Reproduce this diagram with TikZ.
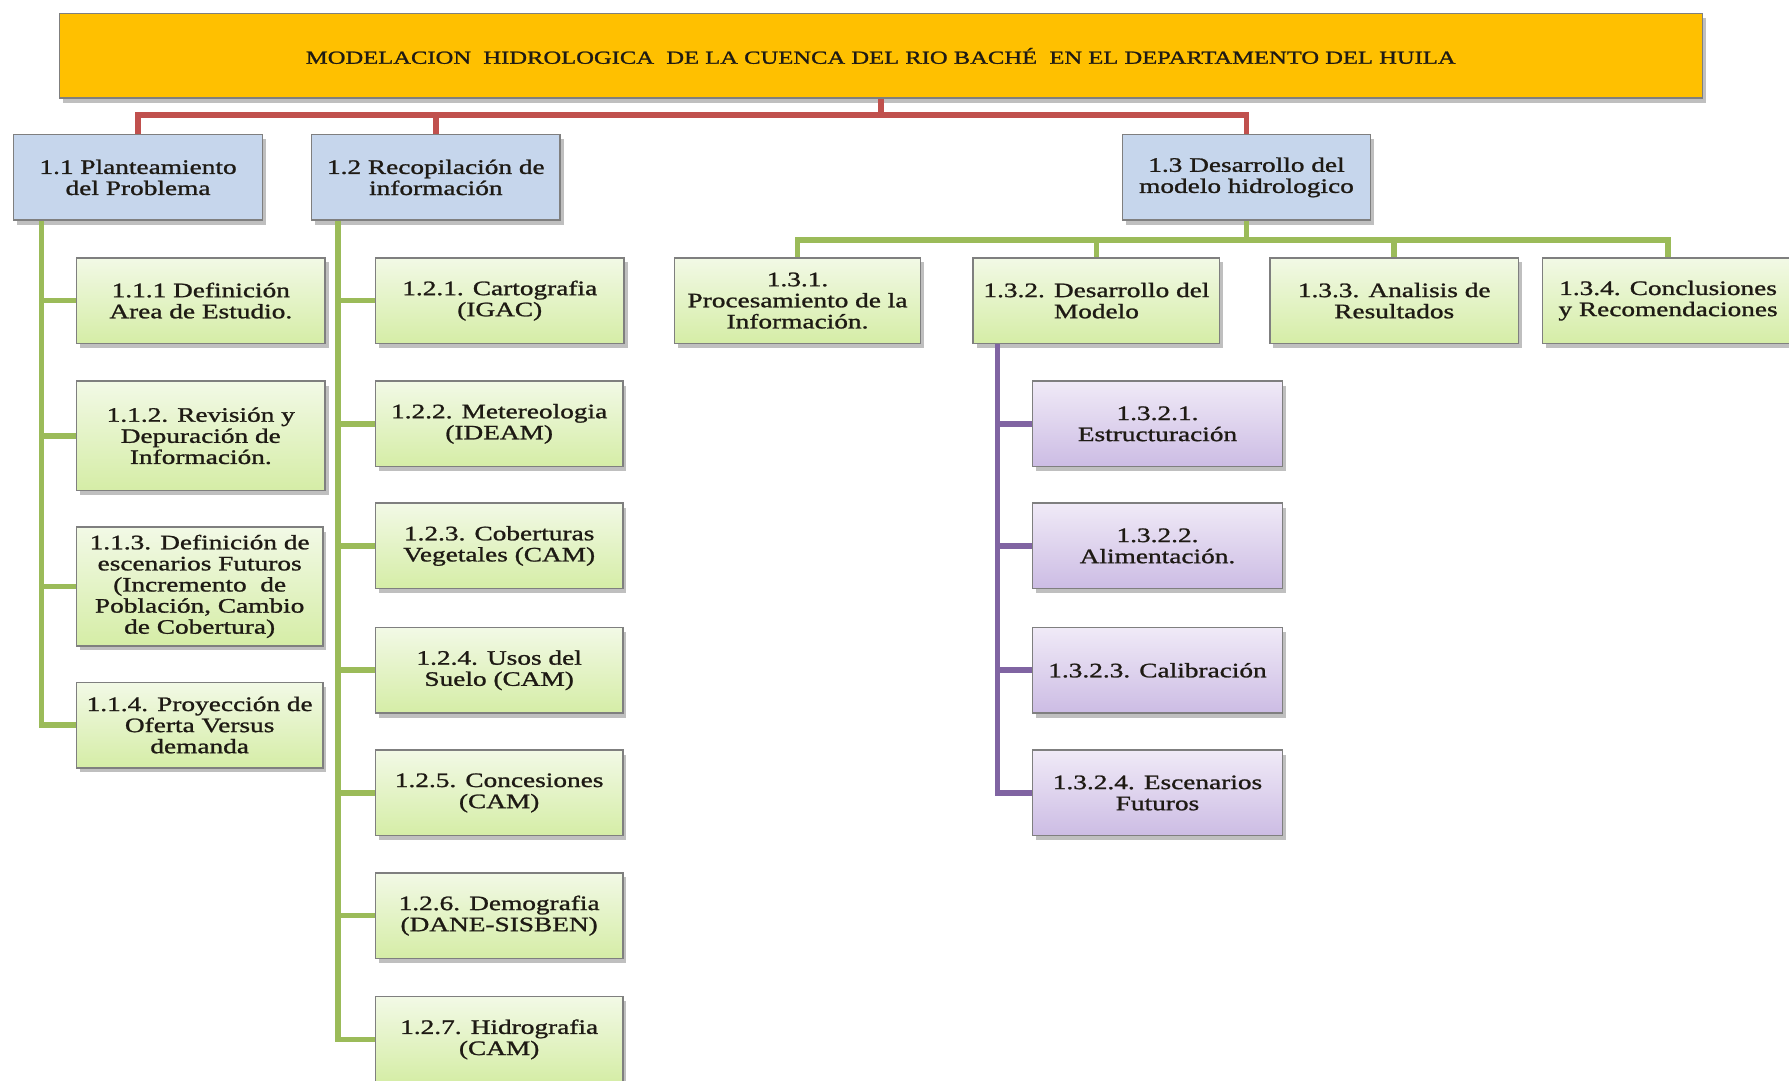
\documentclass[tikz,border=0pt]{standalone}
\usepackage{fontspec}
\setmainfont{Liberation Serif}[FakeStretch=1.33,FakeBold=1.2]
\usetikzlibrary{shadows}
\definecolor{titlefill}{HTML}{FFC000}
\definecolor{bluefill}{HTML}{C6D6EC}
\definecolor{gtop}{HTML}{F2F9E6}
\definecolor{gbot}{HTML}{D5EDA6}
\definecolor{ptop}{HTML}{F0EAF7}
\definecolor{pbot}{HTML}{CCBCE4}
\definecolor{boxborder}{HTML}{7F7F7F}
\definecolor{redln}{HTML}{C0504D}
\definecolor{greenln}{HTML}{9BBB59}
\definecolor{purpleln}{HTML}{8064A2}
\definecolor{txt}{HTML}{1E1A14}
\begin{document}
\begin{tikzpicture}[x=1pt,y=-1pt,
  basebox/.style={draw=boxborder, line width=1.3pt, inner sep=0pt, align=center,
    text=txt, font=\fontsize{18}{18.5}\selectfont,
    drop shadow={shadow xshift=3pt, shadow yshift=-4pt, fill=black, opacity=0.25}},
  titlebox/.style={basebox, fill=titlefill, font=\fontsize{16.2}{17}\selectfont},
  bluebox/.style={basebox, fill=bluefill, minimum width=218, minimum height=75},
  greenbox/.style={basebox, top color=gtop, bottom color=gbot, minimum width=218, minimum height=75},
  purplebox/.style={basebox, top color=ptop, bottom color=pbot, minimum width=219, minimum height=75},
  redline/.style={draw=redln, line width=5pt},
  greenline/.style={draw=greenln, line width=5pt},
  purpleline/.style={draw=purpleln, line width=5pt}
]
\useasboundingbox (0,0) rectangle (1568,947);
\clip (0,0) rectangle (1568,947);
\fill[white] (0,0) rectangle (1568,947);

% title
\node[titlebox, minimum width=1440, minimum height=74] (top) at (772,49)
  {MODELACION\ \ HIDROLOGICA\ \ DE LA CUENCA DEL RIO BACHÉ\ \ EN EL DEPARTAMENTO DEL HUILA};

% level 1
\node[bluebox] (n11) at (121,155.5) {1.1 Planteamiento\\del Problema};
\node[bluebox] (n12) at (382,155.5) {1.2 Recopilación de\\información};
\node[bluebox, minimum width=217] (n13) at (1092.5,155.5) {1.3 Desarrollo del\\modelo hidrologico};

% 1.1 children
\node[greenbox] (n111) at (176,263.5) {1.1.1 Definición\\Area de Estudio.};
\node[greenbox, minimum height=96] (n112) at (176,382) {1.1.2. Revisión y\\Depuración de\\Información.};
\node[greenbox, minimum width=216, minimum height=104] (n113) at (175,514)
  {1.1.3. Definición de\\escenarios Futuros\\(Incremento\ \ de\\Población, Cambio\\de Cobertura)};
\node[greenbox, minimum width=216] (n114) at (175,635.5) {1.1.4. Proyección de\\Oferta Versus\\demanda};

% 1.2 children
\node[greenbox, minimum width=218] (n121) at (438,263.5) {1.2.1. Cartografia\\(IGAC)};
\node[greenbox, minimum width=217] (n122) at (437.5,371.5) {1.2.2. Metereologia\\(IDEAM)};
\node[greenbox, minimum width=217] (n123) at (437.5,478.5) {1.2.3. Coberturas\\Vegetales (CAM)};
\node[greenbox, minimum width=217] (n124) at (437.5,587.5) {1.2.4. Usos del\\Suelo (CAM)};
\node[greenbox, minimum width=217] (n125) at (437.5,695) {1.2.5. Concesiones\\(CAM)};
\node[greenbox, minimum width=217] (n126) at (437.5,802.5) {1.2.6. Demografia\\(DANE-SISBEN)};
\node[greenbox, minimum width=217] (n127) at (437.5,911) {1.2.7. Hidrografia\\(CAM)};

% 1.3 children
\node[greenbox, minimum width=216] (n131) at (699,263.5) {1.3.1.\\Procesamiento de la\\Información.};
\node[greenbox, minimum width=216] (n132) at (961,263.5) {1.3.2. Desarrollo del\\Modelo};
\node[greenbox, minimum width=218] (n133) at (1222,263.5) {1.3.3. Analisis de\\Resultados};
\node[greenbox, minimum width=220] (n134) at (1462,263.5) {1.3.4. Conclusiones\\y Recomendaciones};

% 1.3.2 children
\node[purplebox] (n1321) at (1014.5,371.5) {1.3.2.1.\\Estructuración};
\node[purplebox] (n1322) at (1014.5,478.5) {1.3.2.2.\\Alimentación.};
\node[purplebox] (n1323) at (1014.5,587.5) {1.3.2.3. Calibración};
\node[purplebox] (n1324) at (1014.5,695) {1.3.2.4. Escenarios\\Futuros};

% red connectors
\draw[redline] (top.south) -- ++(0,14) -| (n11.north);
\draw[redline] (top.south) -- ++(0,14) -| (n12.north);
\draw[redline] (top.south) -- ++(0,14) -| (n13.north);

% green under 1.1
\coordinate (t11) at ([xshift=25]n11.south west);
\draw[greenline] (t11) |- (n111.west);
\draw[greenline] (t11) |- (n112.west);
\draw[greenline] (t11) |- (n113.west);
\draw[greenline] (t11) |- (n114.west);

% green under 1.2
\coordinate (t12) at ([xshift=24]n12.south west);
\foreach \n in {n121,n122,n123,n124,n125,n126,n127}
  \draw[greenline] (t12) |- (\n.west);

% green under 1.3
\foreach \n in {n131,n132,n133,n134}
  \draw[greenline] (n13.south) -- ++(0,17) -| (\n.north);

% purple under 1.3.2
\coordinate (t132) at ([xshift=22]n132.south west);
\foreach \n in {n1321,n1322,n1323,n1324}
  \draw[purpleline] (t132) |- (\n.west);
\end{tikzpicture}
\end{document}
